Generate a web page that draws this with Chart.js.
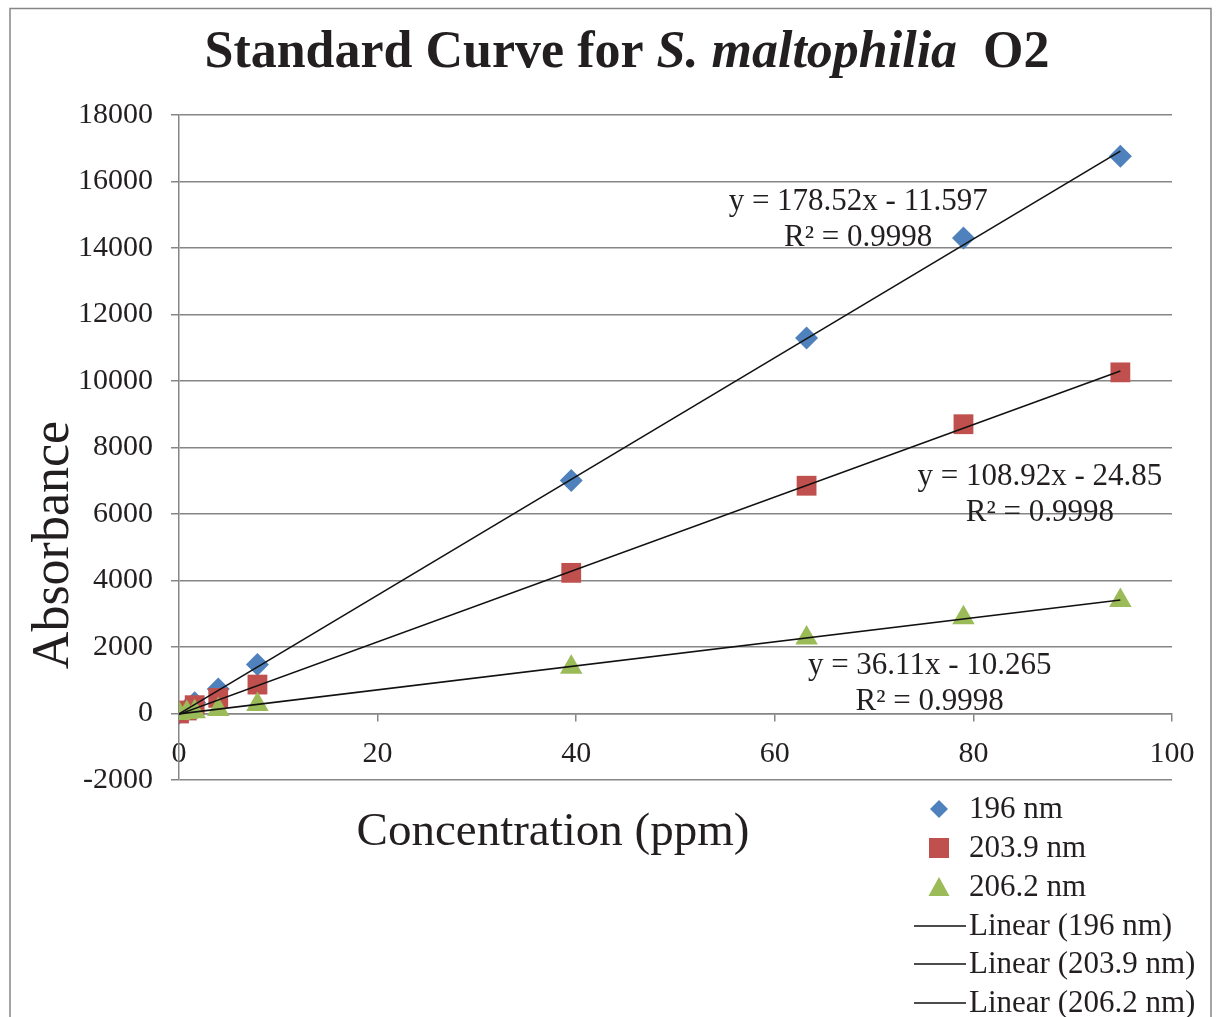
<!DOCTYPE html>
<html>
<head>
<meta charset="utf-8">
<script src="https://cdn.jsdelivr.net/npm/chart.js@4"></script>
<style>
  html, body { margin: 0; padding: 0; background: #fff; }
  canvas { display: block; }
</style>
</head>
<body>
<canvas id="chart" width="1219" height="1017"></canvas>
<script>
// Data
const concentrations = [0, 0.79, 1.58, 3.95, 7.9, 39.5, 63.2, 79, 94.8];
const abs196 = [5, 140, 320, 740, 1470, 7010, 11290, 14300, 16760];
const abs2039 = [0, 90, 250, 470, 870, 4230, 6850, 8700, 10260];
const abs2062 = [0, 30, 50, 120, 270, 1390, 2270, 2880, 3400];

const seriesNames = ['196 nm', '203.9 nm', '206.2 nm'];
const seriesColors = ['#4F81BD', '#C0504D', '#9BBB59'];
const slopes = [178.52, 108.92, 36.11];
const intercepts = [-11.597, -24.85, -10.265];
const rSquared = ['0.9998', '0.9998', '0.9998'];

const xTickStep = 20;
const yTickStep = 2000;

const SERIF = '"Liberation Serif", "Times New Roman", serif';
const TEXT = '#231f20';
const GRID = '#868686';

function points(ys) {
    return concentrations.map((x, i) => ({ x: x, y: ys[i] }));
}

// Excel style trendline, from the printed equation, over the data range
function trend(i) {
    const x0 = Math.min(...concentrations);
    const x1 = Math.max(...concentrations);
    return [
        { x: x0, y: slopes[i] * x0 + intercepts[i] },
        { x: x1, y: slopes[i] * x1 + intercepts[i] }
    ];
}

const allSeries = [abs196, abs2039, abs2062];
const styles = ['rectRot', 'rect', 'triangle'];
const radii = [11.5, 14, 13];

const datasets = [];
allSeries.forEach((ys, i) => {
    datasets.push({
        label: seriesNames[i],
        data: points(ys),
        pointStyle: styles[i],
        pointRadius: radii[i],
        pointBackgroundColor: seriesColors[i],
        pointBorderColor: seriesColors[i],
        pointBorderWidth: 0,
        showLine: false,
        order: 3 - i
    });
});
seriesNames.forEach((name, i) => {
    datasets.push({
        label: 'Linear (' + name + ')',
        data: trend(i),
        showLine: true,
        borderColor: '#111',
        borderWidth: 1.6,
        pointRadius: 0,
        order: 0
    });
});

// equation label anchors (data units, first line baseline, centre)
const eqAnchorX = [68.4, 86.7, 75.6];
const eqAnchorY = [15150, 6880, 1200];

function drawMarker(ctx, style, color, x, y, r) {
    ctx.fillStyle = color;
    ctx.beginPath();
    if (style === 'rectRot') {
        ctx.moveTo(x, y - r); ctx.lineTo(x + r, y); ctx.lineTo(x, y + r); ctx.lineTo(x - r, y);
    } else if (style === 'rect') {
        ctx.rect(x - r, y - r, 2 * r, 2 * r);
    } else {
        ctx.moveTo(x, y - r); ctx.lineTo(x + r * 1.05, y + r * 0.9); ctx.lineTo(x - r * 1.05, y + r * 0.9);
    }
    ctx.closePath();
    ctx.fill();
}

const decor = {
    id: 'decor',
    afterDraw(chart) {
        const ctx = chart.ctx;
        const xs = chart.scales.x, ys = chart.scales.y;
        ctx.save();

        // outer frame
        ctx.strokeStyle = GRID;
        ctx.lineWidth = 1.5;
        ctx.beginPath();
        ctx.moveTo(10, 1030); ctx.lineTo(10, 8.5); ctx.lineTo(1211, 8.5); ctx.lineTo(1211, 1030);
        ctx.stroke();

        ctx.fillStyle = TEXT;
        // title with italic species name
        const parts = [
            ['bold 52px ' + SERIF, 'Standard Curve for '],
            ['italic bold 52px ' + SERIF, 'S. maltophilia'],
            ['bold 52px ' + SERIF, '  O2']
        ];
        let total = 0;
        parts.forEach(p => { ctx.font = p[0]; total += ctx.measureText(p[1]).width; });
        let tx = 627 - total / 2;
        ctx.textAlign = 'left';
        ctx.textBaseline = 'alphabetic';
        parts.forEach(p => { ctx.font = p[0]; ctx.fillText(p[1], tx, 67); tx += ctx.measureText(p[1]).width; });

        // axis titles
        ctx.font = '47px ' + SERIF;
        ctx.textAlign = 'center';
        ctx.fillText('Concentration (ppm)', 553, 845);
        ctx.save();
        ctx.font = '52px ' + SERIF;
        ctx.translate(68, 545);
        ctx.rotate(-Math.PI / 2);
        ctx.fillText('Absorbance', 0, 0);
        ctx.restore();

        // trendline equations
        ctx.font = '31px ' + SERIF;
        slopes.forEach((m, i) => {
            const px = xs.getPixelForValue(eqAnchorX[i]);
            const py = ys.getPixelForValue(eqAnchorY[i]);
            const b = intercepts[i];
            const eq = 'y = ' + m + 'x ' + (b < 0 ? '- ' : '+ ') + Math.abs(b);
            ctx.fillText(eq, px, py);
            ctx.fillText('R\u00B2 = ' + rSquared[i], px, py + 36);
        });

        // legend
        const rowY = [809, 848, 887, 926, 964, 1003];
        ctx.font = '31px ' + SERIF;
        ctx.textAlign = 'left';
        ctx.textBaseline = 'middle';
        const legendR = [9, 10, 10];
        chart.data.datasets.forEach((ds, i) => {
            const y = rowY[i];
            if (i < 3) {
                drawMarker(ctx, ds.pointStyle, seriesColors[i], 939, y, legendR[i]);
            } else {
                ctx.strokeStyle = '#111';
                ctx.lineWidth = 1.6;
                ctx.beginPath();
                ctx.moveTo(914, y); ctx.lineTo(966, y);
                ctx.stroke();
            }
            ctx.fillStyle = TEXT;
            ctx.fillText(ds.label, 969, y + 1);
        });
        ctx.restore();
    }
};

new Chart(document.getElementById('chart'), {
    type: 'scatter',
    data: { datasets: datasets },
    options: {
        responsive: false,
        animation: false,
        layout: { padding: { top: 115, right: 47, bottom: 237, left: 0 } },
        plugins: {
            legend: { display: false },
            title: { display: false },
            tooltip: { enabled: false }
        },
        scales: {
            x: {
                type: 'linear',
                position: { y: 0 },
                min: 0,
                max: 100,
                ticks: { stepSize: xTickStep, padding: 16, color: TEXT, font: { family: SERIF, size: 30 },
                         callback: v => String(v) },
                grid: { drawOnChartArea: false, drawTicks: true, tickLength: 7, color: GRID, lineWidth: 1.5 },
                border: { color: GRID, width: 1.5 },
                afterFit(scale) { scale.height = 0; }
            },
            y: {
                min: -2000,
                max: 18000,
                ticks: { stepSize: yTickStep, padding: 18, color: TEXT, font: { family: SERIF, size: 30 },
                         callback: v => String(v) },
                grid: { color: GRID, lineWidth: 1.5, tickLength: 8 },
                border: { color: GRID, width: 1.5 },
                afterFit(scale) { scale.width = 179; }
            }
        }
    },
    plugins: [decor]
});
</script>
</body>
</html>
